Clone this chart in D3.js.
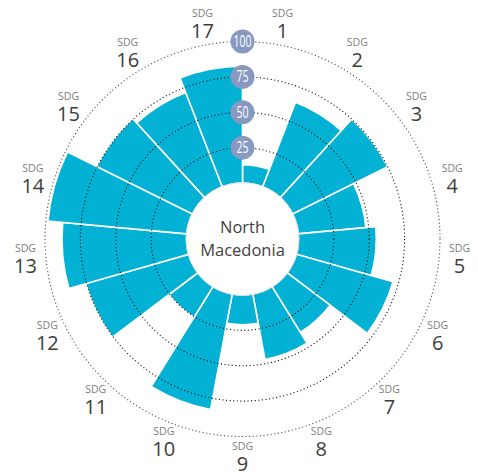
<!DOCTYPE html>
<html>
<head>
<meta charset="utf-8">
<script src="https://cdn.jsdelivr.net/npm/d3@7"></script>
<style>
  html, body { margin: 0; padding: 0; background: #fff; }
  svg { display: block; }
  text { font-family: "Open Sans", "Noto Sans", sans-serif; }
</style>
</head>
<body>
<svg id="chart" width="478" height="472"></svg>
<script>
// SDG index scores, one per goal
const goals = ["1","2","3","4","5","6","7","8","9","10","11","12","13","14","15","16","17"];
const scores = [13, 64, 75, 48, 55, 71, 38, 47, 21, 83, 25.5, 75.5, 88, 98.5, 75.5, 71.5, 82.5];
const ringTicks = [25, 50, 75, 100];
const countryLines = ["North", "Macedonia"];
const goalPrefix = "SDG";

const width = 478, height = 472;
const cx = 242.5, cy = 239;
const innerR = 56, outerR = 197.5;

const svg = d3.select("#chart");
const g = svg.append("g").attr("transform", `translate(${cx},${cy})`);

const angle = d3.scaleBand().domain(goals).range([0, 2 * Math.PI]).padding(0);
const radius = d3.scaleLinear().domain([0, 100]).range([innerR, outerR]);

const arc = d3.arc()
  .innerRadius(radius(0))
  .outerRadius(d => radius(d.value))
  .startAngle(d => angle(d.goal))
  .endAngle(d => angle(d.goal) + angle.bandwidth());

const data = goals.map((goal, i) => ({ goal, value: scores[i] }));

// bars
g.append("g").selectAll("path")
  .data(data)
  .join("path")
  .attr("d", arc)
  .attr("fill", "#02b1d4")
  .attr("stroke", "#fff")
  .attr("stroke-width", 1.6)
  .attr("stroke-linejoin", "miter");

// dotted reference rings, drawn over the bars
g.append("g").selectAll("circle")
  .data(ringTicks)
  .join("circle")
  .attr("r", d => radius(d))
  .attr("fill", "none")
  .attr("stroke", d => d === 100 ? "#4a4a4a" : "#111")
  .attr("stroke-width", 1.1)
  .attr("stroke-dasharray", "1.1 2.5");

// centre disc with country name
g.append("circle")
  .attr("r", radius(0) + 0.5)
  .attr("fill", "#fff")
  .attr("stroke", "#d8d8d8")
  .attr("stroke-width", 0.8);

g.append("g").selectAll("text")
  .data(countryLines)
  .join("text")
  .attr("x", 0)
  .attr("y", (d, i) => -6.3 + i * 23.3)
  .attr("text-anchor", "middle")
  .attr("font-size", 16.5)
  .attr("fill", "#3f3f3f")
  .text(d => d);

// ring value badges along the top
const badges = g.append("g").selectAll("g")
  .data(ringTicks)
  .join("g")
  .attr("transform", d => `translate(0,${-radius(d)})`);

badges.append("circle")
  .attr("r", 12)
  .attr("fill", "#8899c0");

badges.append("text")
  .attr("y", 5.6)
  .attr("text-anchor", "middle")
  .attr("font-size", 15.5)
  .attr("fill", "#fff")
  .attr("textLength", d => String(d).length * 6)
  .attr("lengthAdjust", "spacingAndGlyphs")
  .text(d => d);

// goal labels around the outside
const labelR = 218;
const labels = g.append("g").selectAll("g")
  .data(goals)
  .join("g")
  .attr("transform", d => {
    const a = angle(d) + angle.bandwidth() / 2;
    return `translate(${Math.sin(a) * labelR},${-Math.cos(a) * labelR})`;
  });

labels.append("text")
  .attr("y", -7.5)
  .attr("text-anchor", "middle")
  .attr("font-size", 10.5)
  .attr("fill", "#7d7d7d")
  .text(goalPrefix);

labels.append("text")
  .attr("y", 13.5)
  .attr("text-anchor", "middle")
  .attr("font-size", 20)
  .attr("fill", "#3d3d3d")
  .text(d => d);
</script>
</body>
</html>
